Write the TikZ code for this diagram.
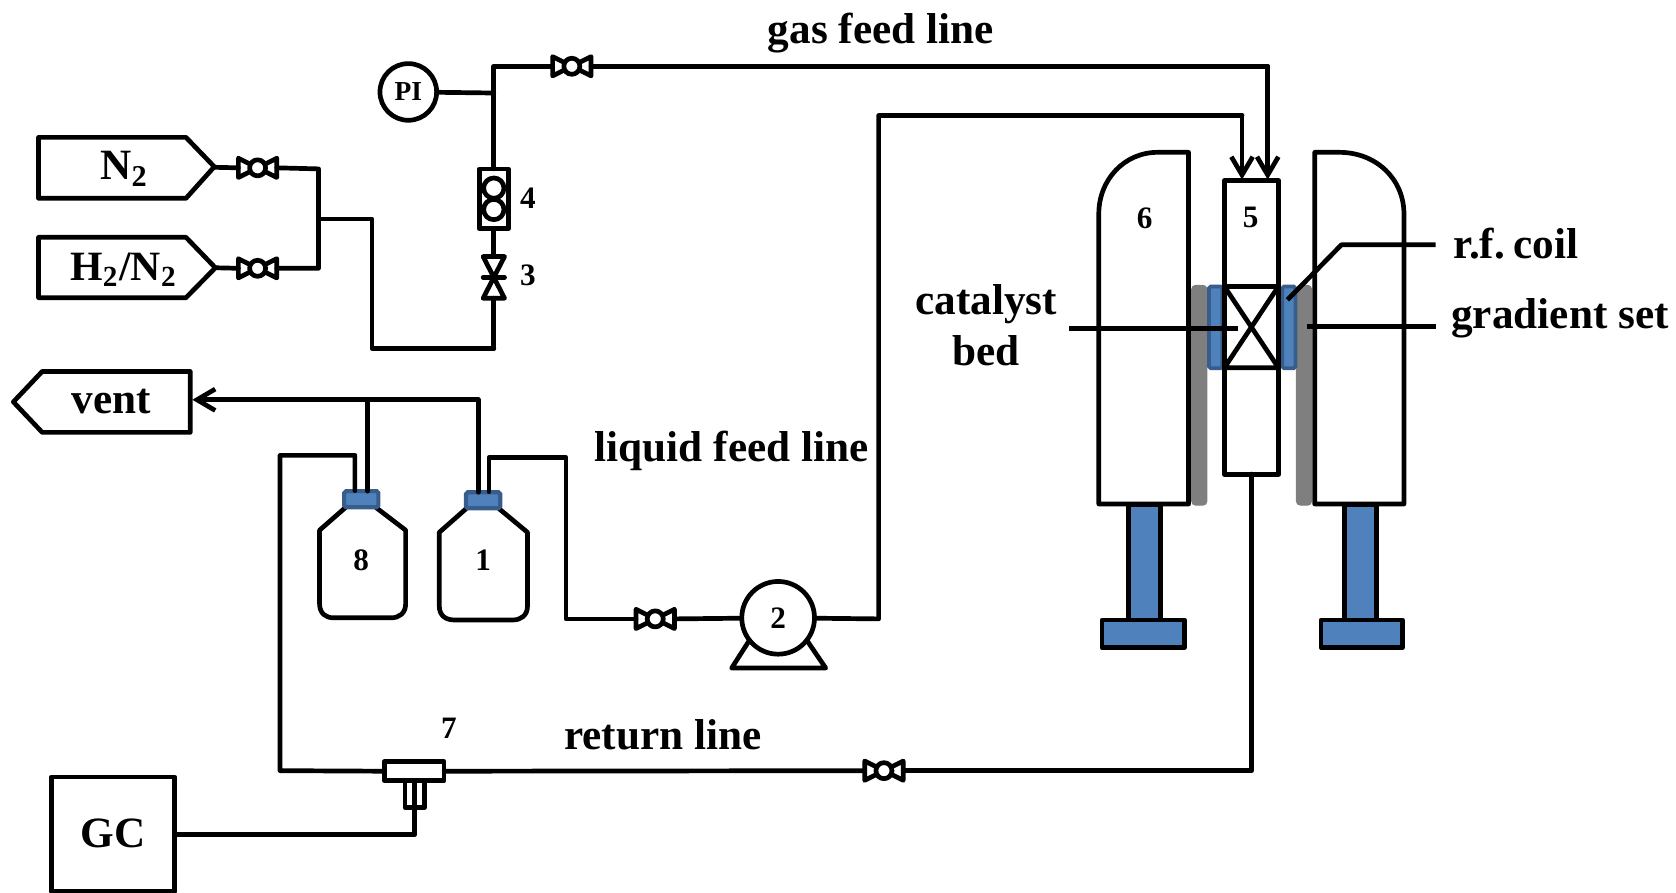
\documentclass[tikz,border=0pt]{standalone}
\usepackage{fontspec}
\setmainfont{Liberation Serif}
\usetikzlibrary{arrows.meta}
\definecolor{coilblue}{HTML}{4F81BD}
\definecolor{coiledge}{HTML}{385D8A}
\definecolor{gradgray}{HTML}{7F7F7F}
\tikzset{
  every node/.append style={outer sep=0pt},
  pipe/.style={line width=1.25pt,line join=round,line cap=round},
  feed/.style={pipe,-{Straight Barb[length=1.7mm,width=2mm,line width=1.25pt]}},
  lab/.style={font=\fontsize{11.5}{13.6}\selectfont\bfseries,inner sep=0pt,align=center},
  num/.style={font=\fontsize{8.3}{9}\selectfont\bfseries,inner sep=0pt},
  pinum/.style={font=\fontsize{7.3}{9}\selectfont\bfseries,inner sep=0pt},
  coil/.style={fill=coilblue,draw=coiledge,line width=1pt,rounded corners=0.5pt},
  grad/.style={fill=gradgray,draw=gradgray,line width=0.3pt,rounded corners=1pt},
  bluebox/.style={pipe,fill=coilblue},
  valve/.pic={
    \coordinate (-l) at (-18,0);
    \coordinate (-r) at (18,0);
    \draw[pipe] (-18,-9) -- (18,9) -- (18,-9) -- (-18,9) -- cycle;
    \draw[pipe,fill=white] (0,0) circle (7.5);
  }
}
\begin{document}
\begin{tikzpicture}[x=0.01cm,y=-0.01cm]
\useasboundingbox (0,0) rectangle (1568,835);

% magnet, gradient set and coil
\draw[grad] (1115,267) rectangle (1129,472.5);
\draw[grad] (1213,267) rectangle (1227,472.5);
\draw[coil] (1131,268) rectangle (1143.5,344.5);
\draw[coil] (1199.5,268) rectangle (1212,344.5);
\draw[bluebox] (1056,472) rectangle (1086,580);
\draw[bluebox] (1258,472) rectangle (1288,580);
\draw[bluebox] (1031,580) rectangle (1108,606);
\draw[bluebox] (1236,580) rectangle (1312,606);
\draw[pipe] (1112,142.5) -- (1083,142.5) .. controls (1052,142.5) and (1028,168) .. (1028,200)
  -- (1028,471.5) -- (1112,471.5) -- cycle;
\draw[pipe] (1230,142.5) -- (1253,142.5) .. controls (1288,142.5) and (1313.5,168) .. (1313.5,200)
  -- (1313.5,471.5) -- (1230,471.5) -- cycle;

% reactor
\node[draw,pipe,minimum width=0.505cm,minimum height=2.746cm,inner sep=0pt,anchor=north west] (reactor) at (1145.5,169) {};
\coordinate (bedNW) at (1145.5,268);
\coordinate (bedNE) at (1196,268);
\coordinate (bedSW) at (1145.5,344);
\coordinate (bedSE) at (1196,344);
\draw[pipe] (bedNW) -- (bedNE) (bedSW) -- (bedSE) (bedNW) -- (bedSE) (bedNE) -- (bedSW);
\coordinate (inL) at (1162,168);
\coordinate (inG) at (1186,168);
\coordinate (outR) at (1171,443.5);

% sources
\draw[pipe] (36,128.5) -- (174,128.5) -- (200.5,156) -- (174,185.5) -- (36,185.5) -- cycle;
\coordinate (n2tip) at (200.5,156.5);
\node[lab] (n2) at (116.5,158) {N\textsubscript{2}};
\draw[pipe] (36,222) -- (174,222) -- (201.5,250.5) -- (174,278.5) -- (36,278.5) -- cycle;
\coordinate (h2tip) at (201.5,250.5);
\node[lab,font=\fontsize{11.1}{13.6}\selectfont\bfseries] (h2) at (116,252) {H\textsubscript{2}/N\textsubscript{2}};
\pic (v1) at (241,157) {valve};
\pic (v2) at (241,251) {valve};
\coordinate (j1) at (298,158);
\coordinate (j2) at (298,251);
\coordinate (j3) at (298,205);
\coordinate (c1) at (348,205);
\coordinate (c2) at (348,326);
\coordinate (c3) at (462,326);
\draw[pipe] (n2tip) -- (v1-l);
\draw[pipe] (h2tip) -- (v2-l);
\draw[pipe] (v1-r) -- (j1) -- (j2) -- (v2-r);
\draw[pipe] (j3) -- (c1) -- (c2) -- (c3);

% gas line devices
\coordinate (v3t) at (462,240);
\coordinate (v3b) at (462,279);
\draw[pipe] (452,240) -- (472,240) -- (452,279) -- (472,279) -- cycle;
\draw[pipe] (452,259.5) -- (472,259.5);
\node[num] (l3) at (494,258) {3};
\node[draw,pipe,minimum width=0.27cm,minimum height=0.56cm,inner sep=0pt] (rota) at (462,186) {};
\draw[pipe] (462,176) circle (9.5);
\draw[pipe] (462,196) circle (9.5);
\node[num] (l4) at (494,185) {4};
\node[draw,pipe,circle,minimum size=0.53cm,inner sep=0pt] (pi) at (382,86) {};
\node[pinum] at (pi.center) {PI};
\coordinate (t1) at (462,87);
\coordinate (c4) at (462,62);
\coordinate (c5) at (1186,62);
\pic (v3) at (535,62) {valve};
\draw[pipe] (c3) -- (v3b);
\draw[pipe] (v3t) -- (rota.south);
\draw[pipe] (rota.north) -- (c4) -- (v3-l);
\draw[pipe] (pi) -- (t1);
\draw[pipe] (v3-r) -- (c5);
\draw[feed] (c5) -- (inG);
\node[lab] (gasl) at (824,31) {gas feed line};

% vent
\draw[pipe] (178,347.5) -- (39.5,347.5) -- (12.5,376) -- (39.5,404.5) -- (178,404.5) -- cycle;
\node[lab] (vent) at (104,375.5) {vent};
\coordinate (ventin) at (180,374);
\coordinate (vj1) at (344,374);
\coordinate (vj2) at (447.5,374);

% bottles
\draw[pipe] (323,475) -- (299,496) -- (299,565) .. controls (299,574) and (305,578) .. (312,578)
  -- (366,578) .. controls (373,578) and (379.5,574) .. (379.5,565) -- (379.5,496) -- (352,475);
\node[draw=coiledge,fill=coilblue,line width=1.1pt,rounded corners=0.5pt,minimum width=0.32cm,minimum height=0.15cm,inner sep=0pt] (cap8) at (338,467) {};
\node[num] (l8) at (338,524) {8};
\draw[pipe] (436,476) -- (411,498) -- (411,567) .. controls (411,576) and (417,580) .. (425,580)
  -- (480,580) .. controls (487,580) and (493.5,576) .. (493.5,567) -- (493.5,498) -- (467,476);
\node[draw=coiledge,fill=coilblue,line width=1.1pt,rounded corners=0.5pt,minimum width=0.32cm,minimum height=0.15cm,inner sep=0pt] (cap1) at (452,468) {};
\node[num] (l1) at (452,524) {1};
\draw[feed] (vj2) -- (ventin);
\draw[pipe] (vj1) -- (vj1 |- cap8.north);
\draw[pipe] (vj2) -- (vj2 |- cap1.north);

% liquid line
\coordinate (b1) at (457.5,460);
\coordinate (b2) at (457.5,428);
\coordinate (b3) at (529.5,428);
\coordinate (b4) at (529.5,579);
\pic (v4) at (613,579) {valve};
\node[draw,pipe,circle,minimum size=0.68cm,inner sep=0pt] (pump) at (728,578) {};
\node[num] (l2) at (pump.center) {2};
\coordinate (b5) at (684.5,625);
\coordinate (b6) at (772.5,625);
\draw[pipe] (pump.218) -- (b5) -- (b6) -- (pump.322);
\coordinate (b7) at (822,579);
\coordinate (b8) at (822,108);
\coordinate (b9) at (1162,108);
\draw[pipe] (b1) -- (b2) -- (b3) -- (b4) -- (v4-l);
\draw[pipe] (v4-r) -- (pump);
\draw[pipe] (pump) -- (b7) -- (b8) -- (b9);
\draw[feed] (b9) -- (inL);
\node[lab] (liql) at (684.5,422) {liquid feed line};

% return line
\node[draw,pipe,minimum width=0.56cm,minimum height=0.18cm,inner sep=0pt] (tee) at (387.5,721.5) {};
\draw[pipe] (379,730.5) -- (379,755.5) -- (397,755.5) -- (397,730.5);
\coordinate (teeb) at (388,730.5);
\coordinate (r1) at (388,781);
\node[num] (l7) at (420,681) {7};
\node[draw,pipe,minimum width=1.155cm,minimum height=1.07cm,inner sep=0pt,anchor=north west] (gc) at (48,727) {};
\node[lab] at ([yshift=0.2pt]gc.center) {GC};
\pic (v5) at (827,721) {valve};
\coordinate (r2) at (1171,721);
\coordinate (r3) at (262,721);
\coordinate (r4) at (262,426);
\coordinate (r5) at (332,426);
\coordinate (r6) at (332,459);
\draw[pipe] (teeb) -- (r1) -- (gc.east |- r1);
\draw[pipe] (tee.west) -- (r3) -- (r4) -- (r5) -- (r6);
\draw[pipe] (tee.east) -- (v5-l);
\draw[pipe] (v5-r) -- (r2) -- (outR);
\node[lab] (retl) at (620,687) {return line};

% callouts and remaining labels
\node[num] (l6) at (1071,204) {6};
\node[num] (l5) at (1170,203) {5};
\node[lab] (rf) at (1418.5,228) {r.f.\hspace{0.2em}coil};
\node[lab] (gs) at (1459.5,298) {gradient set};
\node[lab] (cb) at (922.5,304.5) {catalyst\\bed};
\coordinate (rf1) at (1343,229);
\coordinate (rf2) at (1255,229);
\coordinate (rf3) at (1204.5,280.5);
\draw[pipe,line cap=butt] (rf1) -- (rf2) -- (rf3);
\coordinate (gs1) at (1343,305.5);
\coordinate (gs2) at (1223,305.5);
\draw[pipe,line cap=butt] (gs1) -- (gs2);
\coordinate (cb1) at (1000,307);
\coordinate (cb2) at (1158,307);
\draw[pipe,line cap=butt] (cb1) -- (cb2);
\end{tikzpicture}
\end{document}
